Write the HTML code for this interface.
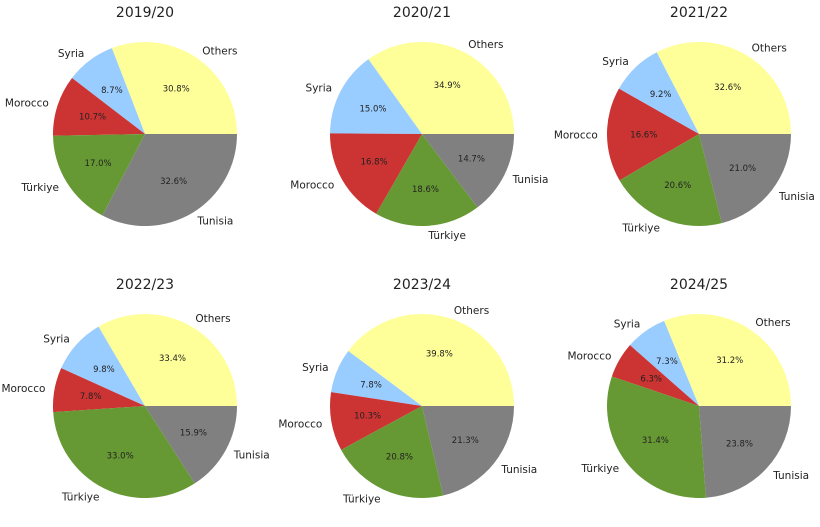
<!DOCTYPE html>
<html><head><meta charset="utf-8"><style>
body{margin:0;background:#fff;}
svg{display:block;font-family:"DejaVu Sans","Liberation Sans",sans-serif;}
</style></head><body>
<svg id="chart" width="820" height="527" viewBox="0 0 820 527"></svg>
<script>
const years = ["2019/20","2020/21","2021/22","2022/23","2023/24","2024/25"];
const categories = ["Others","Syria","Morocco","Türkiye","Tunisia"];
const others  = [30.8, 34.9, 32.6, 33.4, 39.8, 31.2];
const syria   = [8.7, 15.0, 9.2, 9.8, 7.8, 7.3];
const morocco = [10.7, 16.8, 16.6, 7.8, 10.3, 6.3];
const turkiye = [17.0, 18.6, 20.6, 33.0, 20.8, 31.4];
const tunisia = [32.6, 14.7, 21.0, 15.9, 21.3, 23.8];
const colors = ["#ffff99","#99ccff","#cc3333","#669933","#808080"];
const series = [others, syria, morocco, turkiye, tunisia];
const NS = "http://www.w3.org/2000/svg";
const svg = document.getElementById("chart");
const cxs = [145, 422, 699], cys = [134, 406], R = 92;
function pt(cx, cy, r, a){ return [cx + r*Math.cos(a), cy - r*Math.sin(a)]; }
years.forEach((yr, i) => {
  const cx = cxs[i % 3], cy = cys[Math.floor(i / 3)];
  const g = document.createElementNS(NS, "g");
  
  
  svg.appendChild(g);
  const t = document.createElementNS(NS, "text");
  
  
  t.setAttribute("x", cx); t.setAttribute("y", cy - 117);
  t.setAttribute("text-anchor", "middle"); t.setAttribute("font-size", "14");
  t.setAttribute("fill", "#222");
  t.textContent = yr; g.appendChild(t);
  const vals = series.map(s => s[i]);
  const total = vals.reduce((a, b) => a + b, 0);
  let ang = 0;
  vals.forEach((v, k) => {
    const sweep = v / total * 2 * Math.PI;
    const a0 = ang, a1 = ang + sweep;
    const p0 = pt(cx, cy, R, a0), p1 = pt(cx, cy, R, a1);
    const path = document.createElementNS(NS, "path");
    
    
    path.setAttribute("d", `M${cx},${cy} L${p0[0]},${p0[1]} A${R},${R} 0 ${sweep > Math.PI ? 1 : 0} 0 ${p1[0]},${p1[1]} Z`);
    path.setAttribute("fill", colors[k]);
    g.appendChild(path);
    const mid = (a0 + a1) / 2;
    const lp = pt(cx, cy, R * 1.1, mid);
    const lab = document.createElementNS(NS, "text");
    
    
    lab.setAttribute("x", lp[0]); lab.setAttribute("y", lp[1] + 4);
    lab.setAttribute("text-anchor", Math.cos(mid) >= 0 ? "start" : "end");
    lab.setAttribute("font-size", "10.5"); lab.setAttribute("fill", "#222");
    lab.textContent = categories[k]; g.appendChild(lab);
    const pp = pt(cx, cy, R * 0.6, mid);
    const pc = document.createElementNS(NS, "text");
    
    
    pc.setAttribute("x", pp[0]); pc.setAttribute("y", pp[1] + 3);
    pc.setAttribute("text-anchor", "middle");
    pc.setAttribute("font-size", "8.5"); pc.setAttribute("fill", "#222");
    pc.textContent = v.toFixed(1) + "%"; g.appendChild(pc);
    ang = a1;
  });
});
</script>
</body></html>
